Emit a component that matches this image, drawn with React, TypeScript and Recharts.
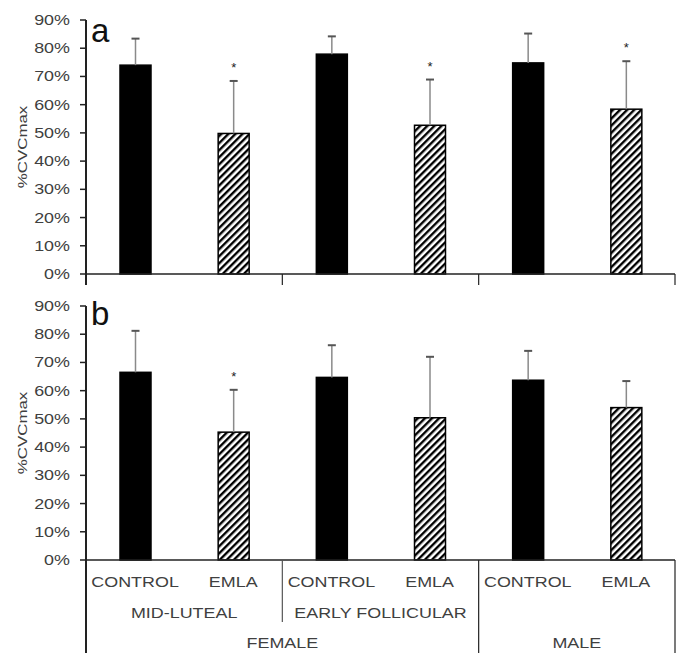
import React from 'react';
import { BarChart, Bar, XAxis, YAxis } from 'recharts';

// categories along the x axis (three levels)
const treatments = ['CONTROL', 'EMLA', 'CONTROL', 'EMLA', 'CONTROL', 'EMLA'];
const phases = ['MID-LUTEAL', 'MID-LUTEAL', 'EARLY FOLLICULAR', 'EARLY FOLLICULAR', '', ''];
const sexes = ['FEMALE', 'FEMALE', 'FEMALE', 'FEMALE', 'MALE', 'MALE'];

// panel a
const aMeans = [74, 49.8, 77.9, 52.7, 74.8, 58.4];
const aSD = [9.4, 18.6, 6.3, 16.2, 10.4, 17];
const aSig = [false, true, false, true, false, true];

// panel b
const bMeans = [66.5, 45.3, 64.7, 50.4, 63.7, 54];
const bSD = [14.7, 15, 11.4, 21.6, 10.4, 9.4];
const bSig = [false, true, false, false, false, false];

const yTicks = [0, 10, 20, 30, 40, 50, 60, 70, 80, 90];

const FONT = '"Liberation Sans", Arial, sans-serif';
const TEXT = '#404040';
const STRETCH = 1.28;

const build = (means: number[], sd: number[], sig: boolean[]) =>
  treatments.map((t, i) => ({
    key: i,
    treatment: t,
    phase: phases[i],
    sex: sexes[i],
    mean: means[i],
    sd: sd[i],
    sig: sig[i],
  }));

const dataA = build(aMeans, aSD, aSig);
const dataB = build(bMeans, bSD, bSig);

function SText({ x, y, children, anchor = 'middle', size = 14, color = TEXT }: any) {
  return (
    <text
      transform={`translate(${x},${y}) scale(${STRETCH},1)`}
      textAnchor={anchor}
      fontFamily={FONT}
      fontSize={size}
      fill={color}
    >
      {children}
    </text>
  );
}

const makeBarShape = (hatchId: string) => (props: any) => {
  const { x, y, width, height, payload } = props;
  const unit = payload.mean ? height / payload.mean : 0;
  const errTop = y - payload.sd * unit;
  const cx = x + width / 2;
  return (
    <g>
      <rect
        x={x}
        y={y}
        width={width}
        height={height}
        fill={payload.treatment === 'CONTROL' ? '#000' : `url(#${hatchId})`}
        stroke="#000"
        strokeWidth={1.5}
      />
      <line x1={cx} x2={cx} y1={y} y2={errTop} stroke="#8a8a8a" strokeWidth={1.5} />
      <line x1={cx - 4} x2={cx + 4} y1={errTop} y2={errTop} stroke="#555" strokeWidth={2} />
      {payload.sig && (
        <text x={cx} y={errTop - 9} textAnchor="middle" fontFamily={FONT} fontSize={13} fill="#222">
          *
        </text>
      )}
    </g>
  );
};

const YTick = (props: any) => {
  const { x, y, payload } = props;
  return <SText x={x - 8} y={y + 5} anchor="end">{`${payload.value}%`}</SText>;
};

const YLabel = (props: any) => {
  const vb = props.viewBox;
  const cx = vb.x - 4;
  const cy = vb.y + vb.height / 2;
  return (
    <text
      transform={`translate(${cx},${cy}) rotate(-90) scale(1.3,1)`}
      y={5}
      textAnchor="middle"
      fontFamily={FONT}
      fontSize={13}
      fill={TEXT}
    >
      %CVCmax
    </text>
  );
};

// x axis ticks: full = three-level labels with dividers, otherwise only short group marks
const makeXTick = (full: boolean) => (props: any) => {
  const { x, y, payload, width, visibleTicksCount } = props;
  const i = payload.index ?? props.index;
  const half = width && visibleTicksCount ? width / visibleTicksCount / 2 : 49;
  const left = x - half;
  const right = x + half;
  const phaseStart = i === 0 || phases[i] !== phases[i - 1];
  const sexStart = i === 0 || sexes[i] !== sexes[i - 1];
  const last = i === treatments.length - 1;
  const lines: any[] = [];
  if (full) {
    if (sexStart) lines.push(<line key="s" x1={left} x2={left} y1={y} y2={y + 93} stroke="#222" strokeWidth={i === 0 ? 2 : 1.2} />);
    else if (phaseStart) lines.push(<line key="p" x1={left} x2={left} y1={y} y2={y + 62} stroke="#555" strokeWidth={1.2} />);
    if (last) lines.push(<line key="e" x1={right} x2={right} y1={y} y2={y + 93} stroke="#222" strokeWidth={1.2} />);
  } else {
    if (sexStart || phaseStart) lines.push(<line key="s" x1={left} x2={left} y1={y} y2={y + 11} stroke="#222" strokeWidth={i === 0 ? 2 : 1.2} />);
    if (last) lines.push(<line key="e" x1={right} x2={right} y1={y} y2={y + 11} stroke="#222" strokeWidth={1.2} />);
  }
  if (!full) return <g>{lines}</g>;
  const phaseEnd = last || phases[i] !== phases[i + 1];
  const sexEnd = last || sexes[i] !== sexes[i + 1];
  // group label: centred over the group's bands
  let phaseCount = 1;
  while (i - phaseCount >= 0 && phases[i - phaseCount] === phases[i]) phaseCount++;
  let sexCount = 1;
  while (i - sexCount >= 0 && sexes[i - sexCount] === sexes[i]) sexCount++;
  return (
    <g>
      {lines}
      <SText x={x} y={y + 27}>{treatments[i]}</SText>
      {phaseEnd && phases[i] && (
        <SText x={right - phaseCount * half} y={y + 58}>{phases[i]}</SText>
      )}
      {sexEnd && (
        <SText x={right - sexCount * half} y={y + 88}>{sexes[i]}</SText>
      )}
    </g>
  );
};

function Panel({ data, letter, letterY, hatchId, full, height, margin }: any) {
  return (
    <BarChart width={690} height={height} data={data} margin={margin} barSize={31}>
      <defs>
        <pattern id={hatchId} patternUnits="userSpaceOnUse" width={5} height={5} patternTransform="rotate(45)">
          <rect x={0} y={0} width={5} height={5} fill="#fff" />
          <rect x={0} y={0} width={2.4} height={5} fill="#000" />
        </pattern>
      </defs>
      <XAxis
        dataKey="key"
        type="category"
        height={full ? 100 : 20}
        interval={0}
        tickSize={0}
        tickMargin={0}
        tickLine={false}
        axisLine={{ stroke: '#222', strokeWidth: 1.5 }}
        tick={makeXTick(full)}
      />
      <YAxis
        width={60}
        domain={[0, 90]}
        ticks={yTicks}
        interval={0}
        tickSize={6}
        tickMargin={2}
        axisLine={{ stroke: '#222', strokeWidth: 2 }}
        tickLine={{ stroke: '#222', strokeWidth: 1.5 }}
        tick={YTick}
        label={{ content: YLabel } as any}
      />
      <Bar dataKey="mean" isAnimationActive={false} shape={makeBarShape(hatchId)} />
      <text x={91} y={letterY} fontFamily={FONT} fontSize={33} fill="#111">
        {letter}
      </text>
    </BarChart>
  );
}

export default function App() {
  return (
    <div style={{ position: 'absolute', left: 0, top: 0, width: 690, height: 667, background: '#fff' }}>
      <div style={{ position: 'absolute', left: 0, top: 0 }}>
        <Panel
          data={dataA}
          letter="a"
          letterY={42}
          hatchId="hatchA"
          full={false}
          height={290}
          margin={{ top: 20, right: 15, bottom: -4, left: 26 }}
        />
      </div>
      <div style={{ position: 'absolute', left: 0, top: 290 }}>
        <Panel
          data={dataB}
          letter="b"
          letterY={35}
          hatchId="hatchB"
          full={true}
          height={377}
          margin={{ top: 16, right: 15, bottom: 7, left: 26 }}
        />
      </div>
    </div>
  );
}
